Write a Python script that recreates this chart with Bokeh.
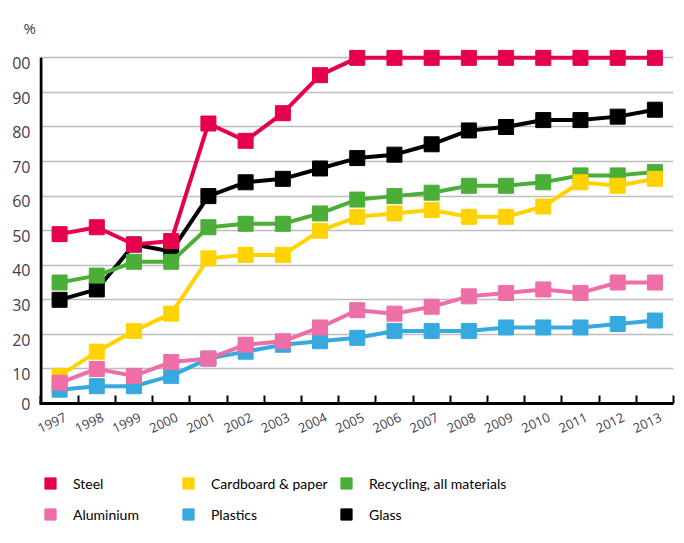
from bokeh.plotting import figure
from bokeh.models import Range1d, FixedTicker, Legend, LegendItem, Title
from bokeh.layouts import column
from bokeh.embed import file_html
from bokeh.resources import INLINE

years = list(range(1997, 2014))
steel = [49, 51, 46, 47, 81, 76, 84, 95, 100, 100, 100, 100, 100, 100, 100, 100, 100]
glass = [30, 33, 46, 44, 60, 64, 65, 68, 71, 72, 75, 79, 80, 82, 82, 83, 85]
recycling = [35, 37, 41, 41, 51, 52, 52, 55, 59, 60, 61, 63, 63, 64, 66, 66, 67]
cardboard = [8, 15, 21, 26, 42, 43, 43, 50, 54, 55, 56, 54, 54, 57, 64, 63, 65]
aluminium = [6, 10, 8, 12, 13, 17, 18, 22, 27, 26, 28, 31, 32, 33, 32, 35, 35]
plastics = [4, 5, 5, 8, 13, 15, 17, 18, 19, 21, 21, 21, 22, 22, 22, 23, 24]
y_ticks = list(range(0, 101, 10))
y_labels = ["0", "10", "20", "30", "40", "50", "60", "70", "80", "90", "00"]

C_STEEL = "#E6004C"
C_ALU = "#EE6EA7"
C_CARD = "#FFD200"
C_REC = "#4BAE38"
C_PLA = "#36A9E1"
C_GLASS = "#000000"
TXT = "#3d3d4d"

x0 = years[0] - 0.5
x1 = years[-1] + 0.5
p = figure(width=684, height=460, output_backend="svg", toolbar_location=None,
           x_range=Range1d(x0 - 0.04, x1), y_range=Range1d(0, 103),
           min_border_left=39, min_border_right=11, min_border_top=47,
           min_border_bottom=57)
p.outline_line_color = None

p.title = Title(text="%", align="left", offset=-16, text_font="Open Sans",
                text_font_size="15px", text_font_style="normal",
                text_color=TXT, standoff=19)

# x axis: boundary ticks (minor) and shifted labels
lab_shift = 0.16
xa = p.xaxis[0]
xa.ticker = FixedTicker(ticks=[y + lab_shift for y in years],
                        minor_ticks=[y - 0.5 for y in years] + [x1])
xa.major_label_overrides = {y + lab_shift: str(y) for y in years}
xa.major_tick_line_color = None
xa.major_tick_out = 0
xa.major_tick_in = 0
xa.minor_tick_line_color = "black"
xa.minor_tick_line_width = 2
xa.minor_tick_in = 8
xa.minor_tick_out = 0
xa.axis_line_width = 3
xa.axis_line_color = "black"
xa.major_label_orientation = 0.44
xa.major_label_standoff = 13
xa.major_label_text_font = "Open Sans"
xa.major_label_text_font_size = "13px"
xa.major_label_text_color = TXT

# y axis: labels sit a little below their grid lines
lab_drop = 1.5
tick_pos = [y_ticks[0]] + [t - lab_drop for t in y_ticks[1:]]
ya = p.yaxis[0]
ya.ticker = FixedTicker(ticks=tick_pos, minor_ticks=[])
ya.major_label_overrides = {t: s for t, s in zip(tick_pos, y_labels)}
ya.axis_line_color = None
ya.major_tick_line_color = None
ya.major_tick_out = 0
ya.major_tick_in = 0
ya.minor_tick_line_color = None
ya.major_label_standoff = 9
ya.major_label_text_font = "Open Sans"
ya.major_label_text_font_size = "16px"
ya.major_label_text_color = TXT

p.xgrid.grid_line_color = None
p.ygrid.ticker = FixedTicker(ticks=y_ticks)
p.ygrid.grid_line_color = "#bdbdbd"
p.ygrid.grid_line_width = 1.5

# vertical axis line from 0 to 100
p.segment(x0=[x0], y0=[y_ticks[0]], x1=[x0], y1=[y_ticks[-1]],
          line_color="black", line_width=3)

series = [
    ("Glass", glass, C_GLASS),
    ("Recycling, all materials", recycling, C_REC),
    ("Cardboard & paper", cardboard, C_CARD),
    ("Plastics", plastics, C_PLA),
    ("Aluminium", aluminium, C_ALU),
    ("Steel", steel, C_STEEL),
]
colors = {}
for name, vals, col in series:
    colors[name] = col
    p.line(years, vals, line_color=col, line_width=4)
    p.scatter(years, vals, marker="square", size=15, fill_color=col, line_color=col)

# legend panel (key renderers hold one point placed outside the visible range)
lf = figure(width=684, height=83, output_backend="svg", toolbar_location=None,
            x_range=Range1d(0, 684), y_range=Range1d(0, 83),
            x_axis_type=None, y_axis_type=None, min_border=0)
lf.outline_line_color = None
lf.grid.visible = False
keys = {}
for name in colors:
    keys[name] = lf.scatter(x=[-1000], y=[-1000], marker="square",
                            fill_color=colors[name], line_color=colors[name])

groups = [
    (["Steel", "Aluminium"], -3),
    (["Cardboard & paper", "Plastics"], 135),
    (["Recycling, all materials", "Glass"], 293),
]
for names, xoff in groups:
    lg = Legend(items=[LegendItem(label=n, renderers=[keys[n]]) for n in names],
                location=(xoff, 15), orientation="vertical",
                glyph_width=28, glyph_height=28, spacing=3, padding=0, margin=0,
                label_standoff=9, label_text_font="Lato",
                label_text_font_size="14px", label_text_color="black",
                border_line_color=None, background_fill_alpha=0)
    lf.add_layout(lg, "center")

layout = column(p, lf, spacing=0)
open("out.html", "w").write(file_html(layout, INLINE))
